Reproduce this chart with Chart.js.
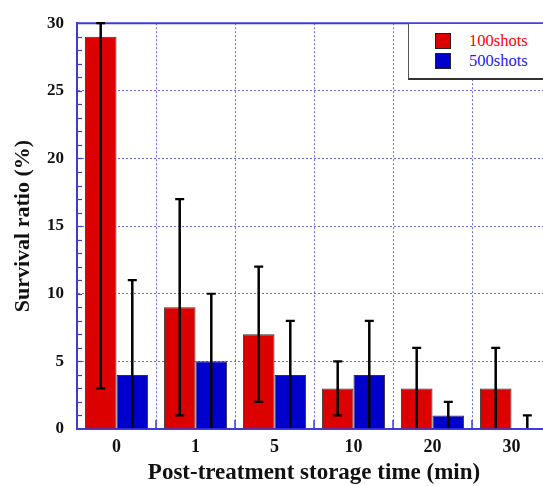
<!DOCTYPE html>
<html>
<head>
<meta charset="utf-8">
<script src="https://cdn.jsdelivr.net/npm/chart.js@4.4.1/dist/chart.umd.min.js"></script>
<style>
  html, body { margin: 0; padding: 0; background: #fff; overflow: hidden; width: 543px; height: 486px; }
  #wrap { position: relative; width: 560px; height: 486px; }
  #legend {
    position: absolute; left: 408px; top: 23px; width: 150px; height: 54px;
    border: 1px solid #555; border-bottom: 2px solid #333; background: #fff;
    font-family: 'Liberation Serif', 'Times New Roman', serif; font-size: 16.5px;
  }
  .item { position: absolute; left: 26px; height: 16px; line-height: 16px; white-space: nowrap; }
  .sw { position: absolute; left: 0; top: 0; width: 14px; height: 14px; border: 1px solid #222; }
  .lbl { position: absolute; left: 34px; top: 0; }
</style>
</head>
<body>
<div id="wrap">
  <canvas id="c" width="560" height="486"></canvas>
  <div id="legend"></div>
</div>
<script>
// ---- data ----
const categories = ['0', '1', '5', '10', '20', '30'];
const seriesNames = ['100shots', '500shots'];
const values100 = [29, 9, 7, 3, 3, 3];
const values500 = [4, 5, 4, 4, 1, 0];
const errLow100 = [3, 1, 2, 1, 0, 0];
const errHigh100 = [30, 17, 12, 5, 6, 6];
const errLow500 = [0, 0, 0, 0, 0, 0];
const errHigh500 = [11, 10, 8, 8, 2, 1];
const yMin = 0, yMax = 30, yLabelStep = 5;

// ---- styles ----
const RED = '#dd0000', BLUE = '#0000cc';
const AXIS = '#3c3cdc', GRID = '#6a6aff';
const NONE = 'rgba(0,0,0,0)';
const SERIF = "'Liberation Serif', 'Times New Roman', serif";

const frame = {
  id: 'frame',
  beforeDatasetsDraw(chart) {
    const { ctx, chartArea: a, scales: { x, y } } = chart;
    ctx.save();
    ctx.strokeStyle = AXIS;
    // top border
    ctx.lineWidth = 2;
    ctx.beginPath(); ctx.moveTo(a.left - 1, a.top); ctx.lineTo(chart.width, a.top); ctx.stroke();
    // inner minor ticks on y axis
    ctx.lineWidth = 1.2;
    for (let v = yMin + 1; v < yMax; v++) {
      const py = Math.round(y.getPixelForValue(v)) + 0.5;
      ctx.beginPath(); ctx.moveTo(a.left, py); ctx.lineTo(a.left + 5, py); ctx.stroke();
    }
    // inner ticks on x axis at category boundaries
    ctx.lineWidth = 1.5;
    for (let i = 1; i < categories.length; i++) {
      const px = (x.getPixelForTick(i - 1) + x.getPixelForTick(i)) / 2;
      ctx.beginPath(); ctx.moveTo(px, a.bottom); ctx.lineTo(px, a.bottom - 9); ctx.stroke();
    }
    ctx.restore();
  }
};

const errorBars = {
  id: 'errorBars',
  afterDatasetsDraw(chart) {
    const { ctx, chartArea: a, scales: { y } } = chart;
    ctx.save();
    ctx.beginPath(); ctx.rect(a.left, a.top - 3, a.right - a.left, a.bottom - a.top + 2); ctx.clip();
    ctx.strokeStyle = '#000';
    chart.data.datasets.forEach((ds, di) => {
      const meta = chart.getDatasetMeta(di);
      meta.data.forEach((bar, i) => {
        const lo = ds.errLow[i], hi = ds.errHigh[i];
        const x0 = bar.x;
        const y1 = y.getPixelForValue(Math.max(lo, yMin));
        const y2 = y.getPixelForValue(hi);
        ctx.lineWidth = 2.5;
        ctx.beginPath(); ctx.moveTo(x0, y1); ctx.lineTo(x0, y2); ctx.stroke();
        ctx.lineWidth = 2.2;
        ctx.beginPath(); ctx.moveTo(x0 - 4.5, y2); ctx.lineTo(x0 + 4.5, y2); ctx.stroke();
        if (lo > yMin) {
          ctx.beginPath(); ctx.moveTo(x0 - 4.5, y1); ctx.lineTo(x0 + 4.5, y1); ctx.stroke();
        }
      });
    });
    ctx.restore();
  }
};

const chart = new Chart(document.getElementById('c'), {
  type: 'bar',
  data: {
    labels: categories,
    datasets: [
      { label: seriesNames[0], data: values100, errLow: errLow100, errHigh: errHigh100,
        backgroundColor: RED, borderColor: '#333', borderWidth: 1 },
      { label: seriesNames[1], data: values500, errLow: errLow500, errHigh: errHigh500,
        backgroundColor: BLUE, borderColor: '#333', borderWidth: 1 }
    ]
  },
  options: {
    responsive: false,
    animation: false,
    events: [],
    datasets: { bar: { categoryPercentage: 0.8, barPercentage: 1.0 } },
    layout: { padding: { top: 23, right: 9, left: 0, bottom: 0 } },
    plugins: { legend: { display: false }, tooltip: { enabled: false } },
    scales: {
      x: {
        type: 'category',
        offset: true,
        afterFit(s) { s.height = 57; },
        grid: { offset: true, drawTicks: false,
                color: (c) => (c.index === 0 ? NONE : GRID), lineWidth: 1 },
        border: { display: true, color: AXIS, width: 2, dash: [2, 2] },
        ticks: { color: '#111', padding: 8, font: { family: SERIF, size: 18, weight: 'bold' } },
        title: { display: true, text: 'Post-treatment storage time (min)', color: '#111',
                 padding: { top: 0, bottom: 0 },
                 font: { family: SERIF, size: 23, weight: 'bold', lineHeight: 1.1 } }
      },
      y: {
        min: yMin, max: yMax,
        afterFit(s) { s.width = 77; },
        grid: { drawTicks: false, lineWidth: 1,
                color: (c) => (c.tick && c.tick.value % yLabelStep === 0 && c.tick.value > yMin && c.tick.value < yMax) ? GRID : NONE },
        border: { display: true, color: AXIS, width: 2, dash: [2, 2] },
        ticks: { stepSize: 1, autoSkip: false, padding: 13, color: '#111',
                 font: { family: SERIF, size: 17, weight: 'bold' },
                 callback: (v) => (v % yLabelStep === 0 ? String(v) : '') },
        title: { display: true, text: 'Survival ratio (%)', color: '#111',
                 padding: { top: 10, bottom: 0 },
                 font: { family: SERIF, size: 22, weight: 'bold' } }
      }
    }
  },
  plugins: [frame, errorBars]
});

// HTML legend built from the datasets
const leg = document.getElementById('legend');
chart.data.datasets.forEach((ds, i) => {
  const it = document.createElement('div');
  it.className = 'item';
  it.style.top = (9 + i * 20) + 'px';
  const sw = document.createElement('div');
  sw.className = 'sw';
  sw.style.background = ds.backgroundColor;
  const lb = document.createElement('div');
  lb.className = 'lbl';
  lb.style.color = i === 0 ? '#ff0000' : '#2222ee';
  lb.textContent = ds.label;
  it.appendChild(sw); it.appendChild(lb);
  leg.appendChild(it);
});
</script>
</body>
</html>
